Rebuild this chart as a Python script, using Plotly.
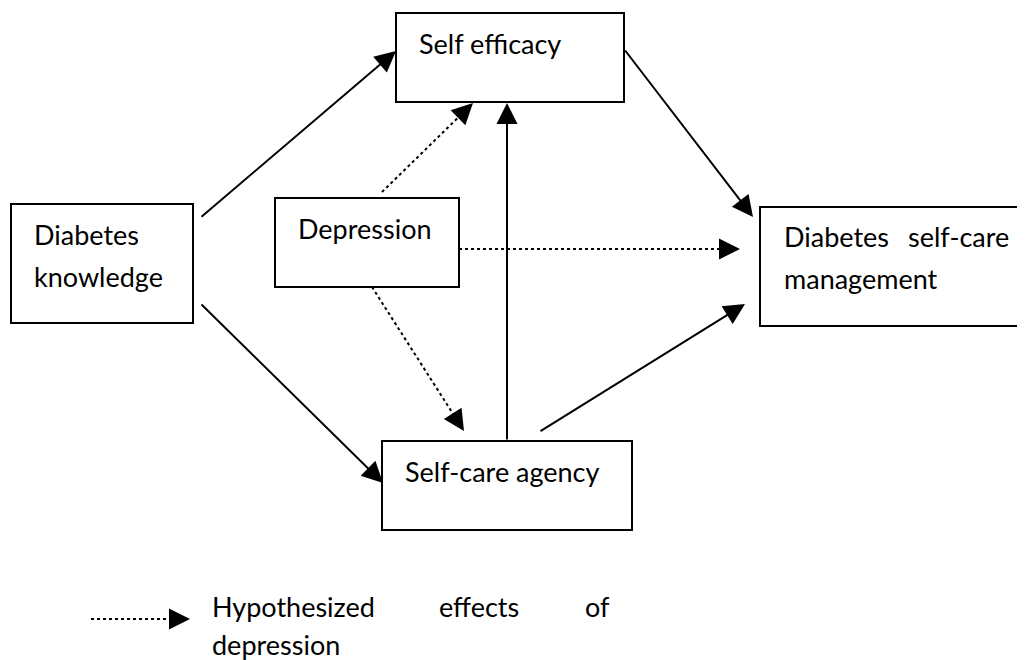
import plotly.graph_objects as go

# ---- diagram content (data) ----
node_names = ["Diabetes knowledge", "Self efficacy", "Depression",
              "Self-care agency", "Diabetes self-care management"]
node_lines = [["Diabetes", "knowledge"], ["Self efficacy"], ["Depression"],
              ["Self-care agency"], ["Diabetes|self-care", "management"]]
edge_from = ["Diabetes knowledge", "Diabetes knowledge", "Self efficacy",
             "Self-care agency", "Self-care agency",
             "Depression", "Depression", "Depression"]
edge_to = ["Self efficacy", "Self-care agency", "Diabetes self-care management",
           "Self efficacy", "Diabetes self-care management",
           "Self efficacy", "Diabetes self-care management", "Self-care agency"]
edge_kind = ["direct", "direct", "direct", "direct", "direct",
             "hypothesized", "hypothesized", "hypothesized"]
legend_words = ["Hypothesized", "effects", "of"]
legend_line2 = "depression"

# ---- layout geometry (pixel space of the 1025x660 page) ----
W, H = 1025, 660
PAGE_MARGIN = 8  # default body margin of the html page
boxes = {  # x0, y0, x1, y1
    "Diabetes knowledge": (11, 204, 193, 323),
    "Self efficacy": (396, 13, 624, 102),
    "Depression": (275, 198, 459, 287),
    "Self-care agency": (382, 441, 632, 530),
    "Diabetes self-care management": (760, 207, 1022, 326),
}
text_pos = {  # left x, line centre ys
    "Diabetes knowledge": (32, [234, 276]),
    "Self efficacy": (417, [43]),
    "Depression": (296, [228]),
    "Self-care agency": (403, [471]),
    "Diabetes self-care management": (782, [236, 278]),
}
justify_right = {"Diabetes self-care management": 1011}
edge_geom = [  # tail (x, y), head (x, y)
    ((200, 218), (396, 51)),
    ((200, 303), (383, 483)),
    ((624, 49), (753, 217)),
    ((507, 441), (507, 103)),
    ((539, 432), (745, 304)),
    ((382, 192), (473, 103)),
    ((459, 249), (740, 249)),
    ((372, 287), (464, 431)),
]
legend_arrow = ((91, 619), (190, 619))
legend_word_x = [210, 437, 583]
legend_y = [606, 644]

FONT = dict(family="Lato, 'Open Sans', sans-serif", size=27, color="black")
LW = 2
HEAD_LEN = 15
ARROWSIZE = 2.1

fig = go.Figure()
shapes = []
annotations = []

for name in node_names:
    x0, y0, x1, y1 = boxes[name]
    shapes.append(dict(type="rect", xref="x", yref="y", x0=x0, y0=y0, x1=x1, y1=y1,
                       line=dict(color="black", width=LW), fillcolor="white", layer="above"))
    lx, ys = text_pos[name]
    for line, yy in zip(node_lines[node_names.index(name)], ys):
        if "|" in line:
            a, b = line.split("|")
            annotations.append(dict(x=lx, y=yy, text=a, showarrow=False, xanchor="left",
                                    yanchor="middle", font=FONT, xref="x", yref="y"))
            annotations.append(dict(x=justify_right[name], y=yy, text=b, showarrow=False,
                                    xanchor="right", yanchor="middle", font=FONT, xref="x", yref="y"))
        else:
            annotations.append(dict(x=lx, y=yy, text=line, showarrow=False, xanchor="left",
                                    yanchor="middle", font=FONT, xref="x", yref="y"))


def add_arrow(tail, head, dotted):
    (tx, ty), (hx, hy) = tail, head
    if dotted:
        dx, dy = hx - tx, hy - ty
        L = (dx * dx + dy * dy) ** 0.5
        ux, uy = dx / L, dy / L
        bx, by = hx - ux * HEAD_LEN, hy - uy * HEAD_LEN
        fig.add_trace(go.Scatter(x=[tx, bx], y=[ty, by], mode="lines",
                                 line=dict(color="black", width=2, dash="dot"),
                                 hoverinfo="skip", showlegend=False))
        sx, sy = hx - ux * (HEAD_LEN - 2), hy - uy * (HEAD_LEN - 2)
        annotations.append(dict(x=hx, y=hy, ax=sx, ay=sy, xref="x", yref="y",
                                axref="x", ayref="y", text="", showarrow=True,
                                arrowhead=2, arrowsize=ARROWSIZE, arrowwidth=2,
                                arrowcolor="black"))
    else:
        annotations.append(dict(x=hx, y=hy, ax=tx, ay=ty, xref="x", yref="y",
                                axref="x", ayref="y", text="", showarrow=True,
                                arrowhead=2, arrowsize=ARROWSIZE, arrowwidth=2,
                                arrowcolor="black"))


for (tail, head), kind in zip(edge_geom, edge_kind):
    add_arrow(tail, head, kind == "hypothesized")

add_arrow(legend_arrow[0], legend_arrow[1], True)
for word, wx in zip(legend_words, legend_word_x):
    annotations.append(dict(x=wx, y=legend_y[0], text=word, showarrow=False, xanchor="left",
                            yanchor="middle", font=FONT, xref="x", yref="y"))
annotations.append(dict(x=legend_word_x[0], y=legend_y[1], text=legend_line2, showarrow=False,
                        xanchor="left", yanchor="middle", font=FONT, xref="x", yref="y"))

fig.update_layout(
    width=W - PAGE_MARGIN, height=H - PAGE_MARGIN, margin=dict(l=0, r=0, t=0, b=0),
    paper_bgcolor="white", plot_bgcolor="white",
    xaxis=dict(range=[PAGE_MARGIN, W], visible=False, fixedrange=True),
    yaxis=dict(range=[H, PAGE_MARGIN], visible=False, fixedrange=True),
    shapes=shapes, annotations=annotations, showlegend=False,
)
fig.write_html("out.html")
